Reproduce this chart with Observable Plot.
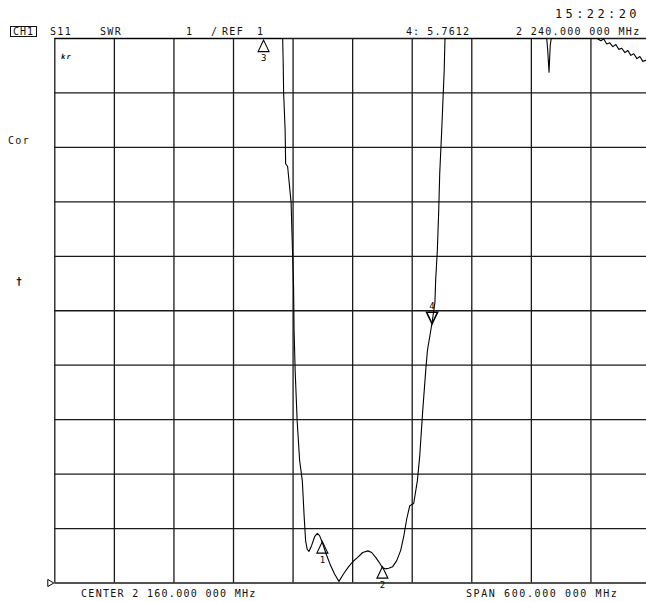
<!DOCTYPE html>
<html><head><meta charset="utf-8">
<script src="https://cdn.jsdelivr.net/npm/d3@7"></script>
<script src="https://cdn.jsdelivr.net/npm/@observablehq/plot@0.6"></script>
<style>
body{margin:0;background:#fff;}
#wrap{position:relative;width:646px;height:602px;overflow:hidden;background:#fff;}
#wrap svg{position:absolute;left:0;top:0;overflow:hidden;}
.t{position:absolute;font-family:"DejaVu Sans Mono",monospace;font-size:10px;line-height:10px;color:#111;white-space:pre;letter-spacing:1.3px;}
</style></head><body><div id="wrap"></div>
<script>
// ---- data ----
const xGrid = [1860,1920,1980,2040,2100,2160,2220,2280,2340,2400,2460]; // MHz, 60 MHz/div
const yGrid = [1,2,3,4,5,6,7,8,9,10,11]; // SWR, 1/div, ref 1
const freqMHz = [1860,2089.5,2090.0,2090.5,2092.0,2092.5,2094.5,2098.0,2099.0,2100.5,2101.0,2102.1,2104.1,2106.6,2109.3,2111.1,2112.6,2114.2,2116.0,2118.7,2121.7,2124.4,2126.7,2129.5,2133.8,2137.8,2141.9,2146.2,2150.9,2156.0,2160.0,2165.1,2170.1,2175.4,2179.2,2183.2,2186.7,2190.0,2193.3,2196.3,2200.3,2204.4,2208.4,2211.4,2214.5,2217.5,2221.5,2225.2,2227.6,2230.6,2233.6,2235.3,2240.0,2242.9,2243.6,2245.3,2246.7,2247.7,2249.7,2252.2,2253.0,2355.5,2356.5,2357.8,2359.0,2360.0,2406.4,2409.9,2412.9,2416.0,2419.0,2422.0,2425.1,2428.1,2431.1,2434.2,2437.2,2440.2,2443.2,2446.3,2449.3,2452.3,2455.3,2460];
const swr = [11,11,10.60,9.99,9.31,8.70,8.65,7.99,7.35,6.43,5.64,4.90,3.98,3.25,2.88,2.24,1.78,1.62,1.58,1.69,1.85,1.91,1.87,1.74,1.51,1.32,1.16,1.03,1.17,1.30,1.39,1.47,1.56,1.59,1.56,1.47,1.38,1.28,1.26,1.27,1.30,1.41,1.60,1.85,2.18,2.42,2.46,2.88,3.34,4.17,4.90,5.27,5.78,6.16,6.56,7.11,7.84,8.52,9.31,10.41,11,11,10.78,10.38,10.87,11,11,10.96,10.99,10.90,10.92,10.85,10.89,10.80,10.82,10.74,10.78,10.69,10.72,10.63,10.67,10.58,10.60,10.54,10.52];
const markerIds = ["1","2","3","4"];
const markerMHz = [2129.5,2190.0,2070.3,2240.0];
const markerSwr = [1.76,1.30,10.97,5.7612];
const headerTexts = {ch:"CH1", param:"S11", fmt:"SWR", scale:"1", slash:"/", ref:"REF", refVal:"1",
  mkr:"4: 5.7612", mkrFreq:"2 240.000 000 MHz", time:"15:22:20",
  center:"CENTER 2 160.000 000 MHz", span:"SPAN 600.000 000 MHz", cor:"Cor", arrow:"\u2020", kr:"kr"};

// ---- build ----
const trace = freqMHz.map((f,i)=>({f, s: swr[i]}));
const markers = markerIds.map((id,i)=>({id, f: markerMHz[i], s: markerSwr[i]}));
const upMarkers = markers.filter(m=>m.id!=="4");
const activeMarker = markers.filter(m=>m.id==="4");

const triUp = {draw(c){c.moveTo(0,0);c.lineTo(5.5,11.5);c.lineTo(-5.5,11.5);c.closePath();}};
const triDown = {draw(c){c.moveTo(0,0);c.lineTo(5.5,-11.5);c.lineTo(-5.5,-11.5);c.closePath();}};
const triRight = {draw(c){c.moveTo(0,0);c.lineTo(-6,-3.5);c.lineTo(-6,3.5);c.closePath();}};

const chart = Plot.plot({
  width: 646, height: 602,
  marginLeft: 54.3, marginRight: -4, marginTop: 38, marginBottom: 19.5,
  x: {domain: [1860, 2460], axis: null},
  y: {domain: [1, 11], axis: null},
  style: {background: "#fff", overflow: "hidden"},
  marks: [
    Plot.ruleX(xGrid, {stroke: "#1a1a1a", strokeWidth: 1.3}),
    Plot.ruleY(yGrid, {stroke: "#1a1a1a", strokeWidth: 1.3}),
    Plot.line(trace, {x: "f", y: "s", stroke: "#000", strokeWidth: 1.1, clip: true}),
    Plot.dot(upMarkers, {x: "f", y: "s", symbol: triUp, fill: "none", stroke: "#000", strokeWidth: 1.1}),
    Plot.dot(activeMarker, {x: "f", y: "s", symbol: triDown, fill: "none", stroke: "#000", strokeWidth: 1.6}),
    Plot.text(upMarkers, {x: "f", y: "s", text: "id", dy: 18, fontSize: 9, fontFamily: "DejaVu Sans Mono", fill: "#000"}),
    Plot.text(activeMarker, {x: "f", y: "s", text: "id", dy: -18, fontSize: 9, fontFamily: "DejaVu Sans Mono", fill: "#000"}),
    Plot.dot([{f: xGrid[0], s: yGrid[0]}], {x: "f", y: "s", symbol: triRight, fill: "none", stroke: "#000", strokeWidth: 1, dx: -1})
  ]
});
const wrap = document.getElementById("wrap");
wrap.appendChild(chart);

function addText(txt, left, top, extra){
  const s = document.createElement("span");
  s.className = "t";
  s.textContent = txt;
  s.style.left = left + "px";
  s.style.top = top + "px";
  if (extra) Object.assign(s.style, extra);
  wrap.appendChild(s);
  return s;
}
const H = headerTexts;
addText(H.ch, 10, 26, {border:"1px solid #111", height:"11px", lineHeight:"10px", padding:"0 1px 0 2px", letterSpacing:"1px", boxSizing:"border-box", width:"27px"});
addText(H.param, 50, 27);
addText(H.fmt, 100, 27);
addText(H.scale, 186, 27);
addText(H.slash, 211, 27);
addText(H.ref, 222, 27);
addText(H.refVal, 257, 27);
addText(H.mkr, 406, 27, {letterSpacing:"1.1px"});
addText(H.mkrFreq, 516, 27);
addText(H.time, 555, 8, {fontSize:"12px", lineHeight:"12px", letterSpacing:"3.4px"});
addText(H.center, 81, 589);
addText(H.span, 466, 589, {letterSpacing:"1.6px"});
addText(H.cor, 8, 136);
addText(H.arrow, 16, 277, {fontSize:"10px", fontWeight:"bold"});
addText(H.kr, 61, 52, {fontSize:"7px", fontStyle:"italic", fontWeight:"bold"});
</script>
</body></html>
